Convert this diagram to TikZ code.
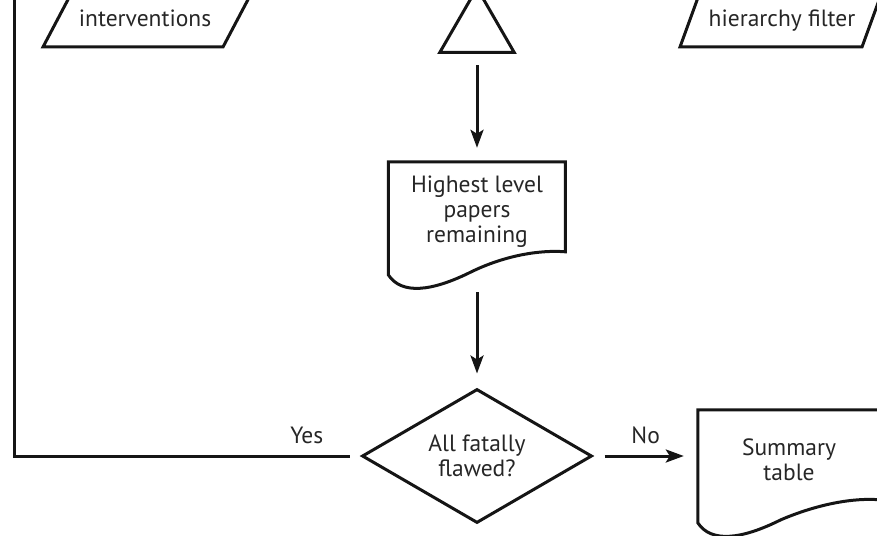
\documentclass[tikz,border=0pt]{standalone}
\usepackage{fontspec}
\setmainfont{PT Sans}
\usetikzlibrary{arrows.meta,shapes.geometric}
\usepackage{xcolor}
\definecolor{Ink}{HTML}{151515}
\definecolor{TextInk}{HTML}{262626}

\tikzset{
  flowline/.style={draw=Ink,line width=3pt},
  flowarrow/.style={flowline,-{Stealth[length=18pt,width=13pt,inset=4pt]},shorten <=11pt,shorten >=14pt},
  shapeline/.style={draw=Ink,line width=3pt,line join=miter},
  doctext/.style={minimum height=100pt,inner sep=0pt,align=center,text=TextInk},
  decision/.style={diamond,shapeline,aspect=1.7,minimum width=230pt,minimum height=134pt,inner sep=0pt,align=center,text=TextInk},
  mergetri/.style={regular polygon,regular polygon sides=3,shapeline,minimum size=86pt,inner sep=0pt},
  iotext/.style={text=TextInk,inner sep=0pt},
  branchlabel/.style={text=TextInk,inner sep=2pt,above=9pt}
}

% document outline hung from a text node: node, width
\newcommand{\docoutline}[2]{%
  \draw[shapeline,shift={(#1.north west)}] (0,0) -- (#2,0) -- (#2,90)
    .. controls (#2-24,88) and (#2-59,93) .. (83,110)
    .. controls (43,130) and (13,133) .. (0,113) -- cycle;}

\begin{document}
\begin{tikzpicture}[x=1pt,y=-1pt,font=\fontsize{23.5}{25}\selectfont]
    \useasboundingbox (0,0) rectangle (877,535);
    \clip (0,0) rectangle (877,535);

    % input boxes (cut at the top)
    \node[iotext,anchor=base] (interv) at (145,27) {interventions};
    \draw[shapeline] (72,-8) -- (43,47) -- (223,47) -- (252,-8);
    \node[iotext,anchor=base] (hierfilter) at (782,27) {hierarchy filter};
    \draw[shapeline] (700,-8) -- (680,47) -- (862,47) -- (882,-8);

    % extract
    \node[mergetri] (extract) at (477,31) {};

    % remaining papers
    \node[doctext,minimum width=177pt] (high) at (477,212) {Highest level\\papers\\remaining};
    \docoutline{high}{177}
    \coordinate (highfoot) at ([yshift=-19pt]high.south);

    % fatal flaw check
    \node[decision] (dec) at (477,456) {All fatally\\flawed?};

    % output table
    \node[doctext,minimum width=182pt] (summary) at (789,460) {Summary\\table};
    \docoutline{summary}{182}

    % arrows
    \draw[flowarrow] (extract.south) -- (high.north);
    \draw[flowarrow] (highfoot) -- (dec.north);
    \draw[flowarrow] (dec.east) -- node[branchlabel]{No} (dec.east -| summary.west);

    % yes: back round to the top
    \coordinate (loopcorner) at (14,456);
    \coordinate (looptop) at (14,-20);
    \draw[flowline,shorten <=11pt] (dec.west) -- node[branchlabel,pos=0.155]{Yes} (loopcorner) -- (looptop);
\end{tikzpicture}
\end{document}
